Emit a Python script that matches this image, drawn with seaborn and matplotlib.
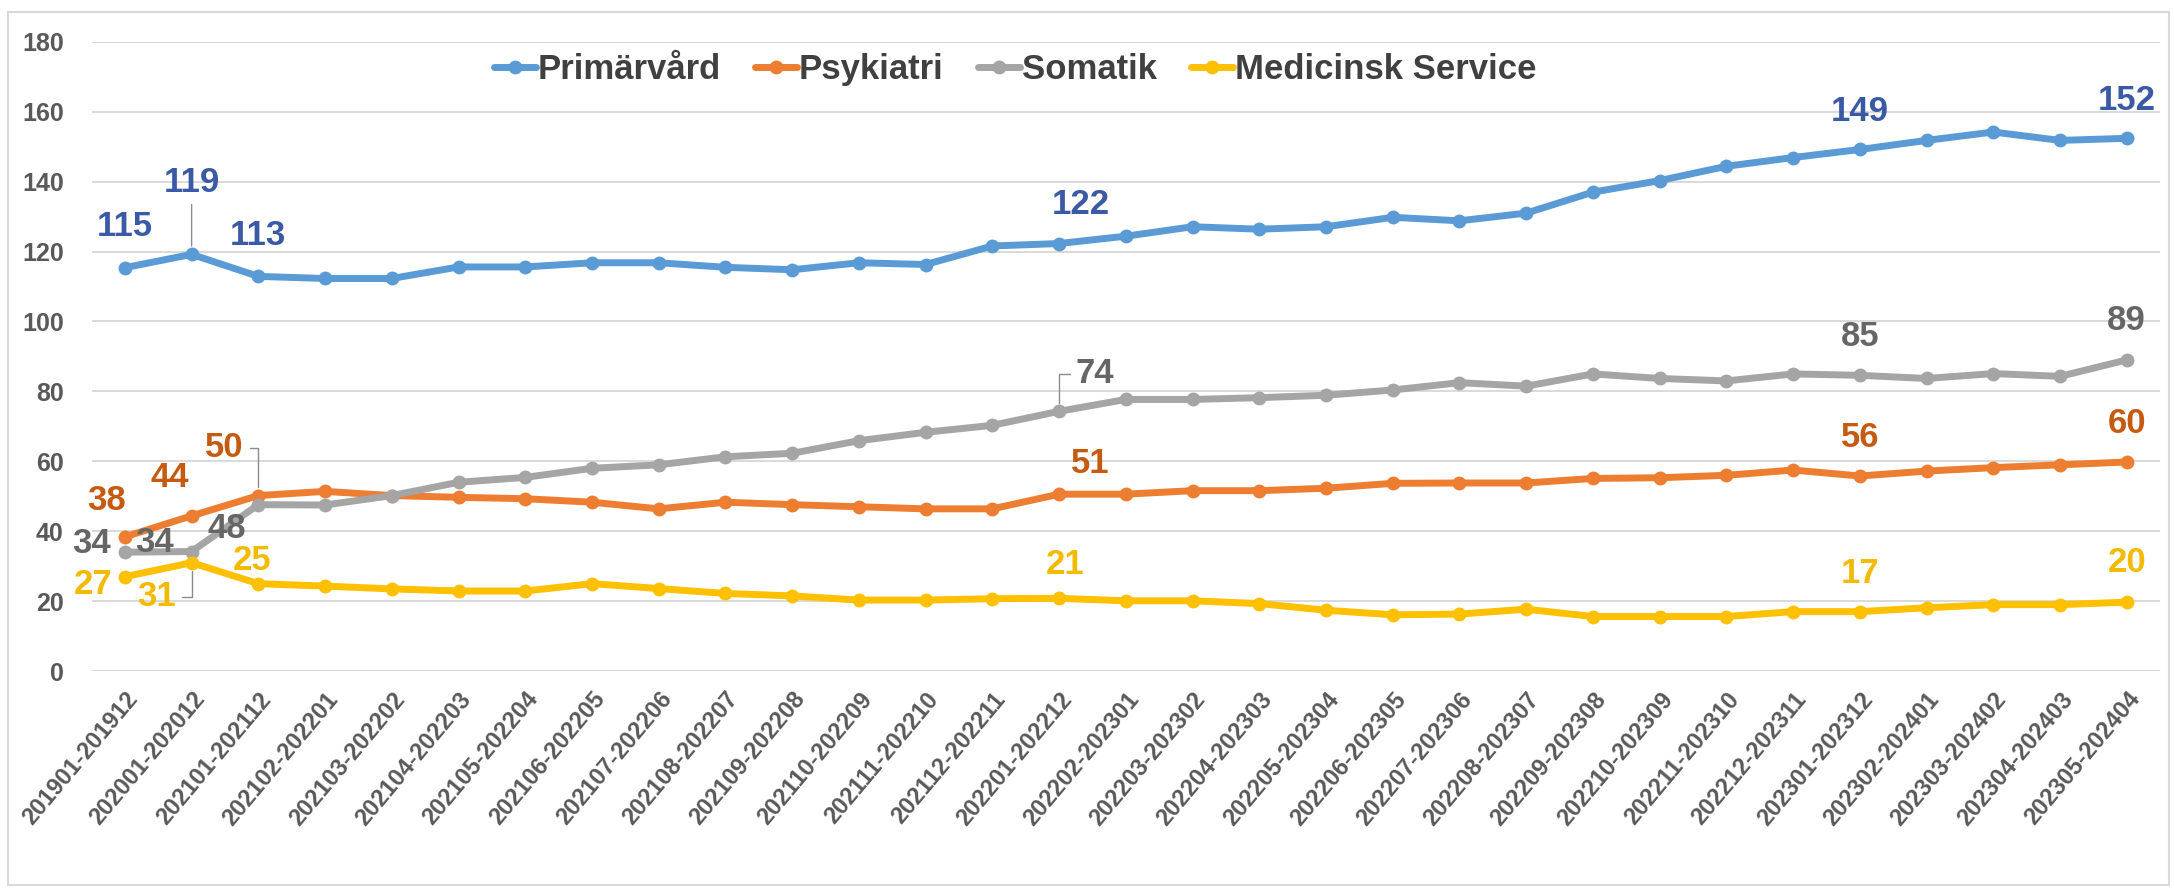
import numpy as np
import pandas as pd
import matplotlib.pyplot as plt
import seaborn as sns
from matplotlib import font_manager
from matplotlib.lines import Line2D
from matplotlib.patches import Rectangle

# period labels (rolling 12 months)
categories = ['201901-201912', '202001-202012', '202101-202112', '202102-202201', '202103-202202',
              '202104-202203', '202105-202204', '202106-202205', '202107-202206', '202108-202207',
              '202109-202208', '202110-202209', '202111-202210', '202112-202211', '202201-202212',
              '202202-202301', '202203-202302', '202204-202303', '202205-202304', '202206-202305',
              '202207-202306', '202208-202307', '202209-202308', '202210-202309', '202211-202310',
              '202212-202311', '202301-202312', '202302-202401', '202303-202402', '202304-202403',
              '202305-202404']

primarvard = [115.4, 119.2, 112.9, 112.3, 112.3, 115.6, 115.6, 116.8, 116.8, 115.5, 114.8,
              116.8, 116.3, 121.6, 122.3, 124.4, 127.1, 126.4, 127.1, 129.8, 128.8, 131.0,
              137.0, 140.3, 144.4, 146.9, 149.2, 151.8, 154.2, 151.8, 152.4]
psykiatri = [38.4, 44.4, 50.2, 51.4, 50.2, 49.7, 49.3, 48.3, 46.4, 48.3, 47.6, 47.0, 46.4,
             46.4, 50.6, 50.6, 51.6, 51.6, 52.3, 53.7, 53.8, 53.8, 55.1, 55.3, 56.0, 57.5,
             55.8, 57.2, 58.2, 59.0, 59.8]
somatik = [34.0, 34.2, 47.6, 47.5, 50.2, 54.0, 55.4, 58.0, 59.0, 61.3, 62.3, 65.9, 68.3, 70.3,
           74.3, 77.7, 77.7, 78.2, 78.9, 80.4, 82.5, 81.5, 85.0, 83.7, 83.0, 85.0, 84.6, 83.7,
           85.1, 84.3, 89.0]
medicinsk = [27.0, 31.0, 25.0, 24.3, 23.5, 22.9, 22.9, 25.0, 23.6, 22.2, 21.5, 20.3, 20.3,
             20.7, 20.8, 20.1, 20.1, 19.3, 17.4, 16.1, 16.3, 17.7, 15.6, 15.6, 15.6, 17.0,
             17.0, 18.1, 19.0, 19.0, 19.7]

series_names = ['Primärvård', 'Psykiatri', 'Somatik', 'Medicinsk Service']
series_values = [primarvard, psykiatri, somatik, medicinsk]
line_colors = ['#5B9BD5', '#ED7D31', '#A5A5A5', '#FFC000']
label_colors = ['#3B5AA5', '#C55A11', '#666666', '#F2BA00']

# data labels: (index, x offset in categories, y offset in units, leader line)
label_spec = {
    'Primärvård': [(0, 0, 11.8, None), (1, 0, 20.7, 'straight'), (2, 0, 11.6, None),
                   (14, 0.33, 11.3, None), (26, 0, 11, None), (30, 0, 10.8, None)],
    'Psykiatri': [(0, -0.28, 10.4, None), (1, -0.33, 10.9, None), (2, -0.51, 13.7, 'angle'),
                  (14, 0.47, 8.9, None), (26, 0, 11, None), (30, 0, 11.1, None)],
    'Somatik': [(0, -0.5, 2.6, None), (1, -0.55, 2.7, None), (2, -0.48, -6.7, None),
                (14, 0.54, 10.7, 'angle'), (26, 0, 11.1, None), (30, 0, 11.2, None)],
    'Medicinsk Service': [(0, -0.48, -2.1, None), (1, -0.53, -9.7, 'angle'), (2, -0.09, 6.6, None),
                          (14, 0.09, 9.7, None), (26, 0, 11, None), (30, 0, 11.4, None)],
}

available = {f.name for f in font_manager.fontManager.ttflist}
base_font = next((f for f in ['Liberation Sans', 'Arial', 'DejaVu Sans'] if f in available), 'DejaVu Sans')

sns.set_theme(style='white')
plt.rcParams['font.family'] = [base_font, 'DejaVu Sans']

rows = []
for name, vals in zip(series_names, series_values):
    for i, v in enumerate(vals):
        rows.append({'pos': i, 'Period': categories[i], 'Serie': name, 'Värde': v})
df = pd.DataFrame(rows)

fig = plt.figure(figsize=(21.74, 8.9), dpi=100)
ax = fig.add_axes([0.0421, 0.246, 0.9515, 0.707])

sns.lineplot(data=df, x='pos', y='Värde', hue='Serie', hue_order=series_names,
             palette=line_colors, marker='o', markersize=10, markeredgewidth=0,
             linewidth=5, legend=False, ax=ax)

ax.set_xlim(-0.5, len(categories) - 0.5)
ax.set_ylim(0, 180)
ax.set_yticks(np.arange(0, 181, 20))
ax.set_xticks(range(len(categories)))
ax.set_xticklabels(categories, rotation=50, ha='right', rotation_mode='anchor',
                   fontsize=17, fontweight='bold', color='#595959')
ax.tick_params(axis='x', length=0, pad=12)
ax.tick_params(axis='y', length=0, pad=20, labelsize=18, labelcolor='#595959')
for t in ax.get_yticklabels():
    t.set_fontweight('bold')
ax.set_xlabel('')
ax.set_ylabel('')
ax.yaxis.grid(True, color='#D9D9D9', linewidth=1.4)
ax.xaxis.grid(False)
ax.set_axisbelow(True)
sns.despine(ax=ax, left=True, bottom=True)

for name, vals, lc in zip(series_names, series_values, label_colors):
    for idx, dx, dy, leader in label_spec[name]:
        v = vals[idx]
        txt = f'{v:.0f}'
        if leader is None:
            ax.text(idx + dx, v + dy, txt, ha='center', va='center', fontsize=25,
                    fontweight='bold', color=lc)
        else:
            style = 'arc3' if leader == 'straight' else 'angle,angleA=0,angleB=90,rad=0'
            ax.annotate(txt, xy=(idx, v), xytext=(idx + dx, v + dy), textcoords='data',
                        ha='center', va='center', fontsize=25, fontweight='bold', color=lc,
                        arrowprops=dict(arrowstyle='-', color='#8C8C8C', lw=1.0,
                                        shrinkA=2, shrinkB=6, connectionstyle=style))

handles = [Line2D([0], [0], color=c, lw=5, marker='o', markersize=10, markeredgewidth=0)
           for c in line_colors]
fig.legend(handles, series_names, loc='center', bbox_to_anchor=(0.467, 0.922), ncol=4,
           frameon=False, handlelength=1.2, handletextpad=0.05,
           columnspacing=1.0, labelcolor='#404040', prop={'weight': 'bold', 'size': 25})

fig.patches.append(Rectangle((0.0035, 0.006), 0.994, 0.981, transform=fig.transFigure,
                             fill=False, edgecolor='#D9D9D9', linewidth=1.5))

fig.savefig('out.png', dpi=100)
